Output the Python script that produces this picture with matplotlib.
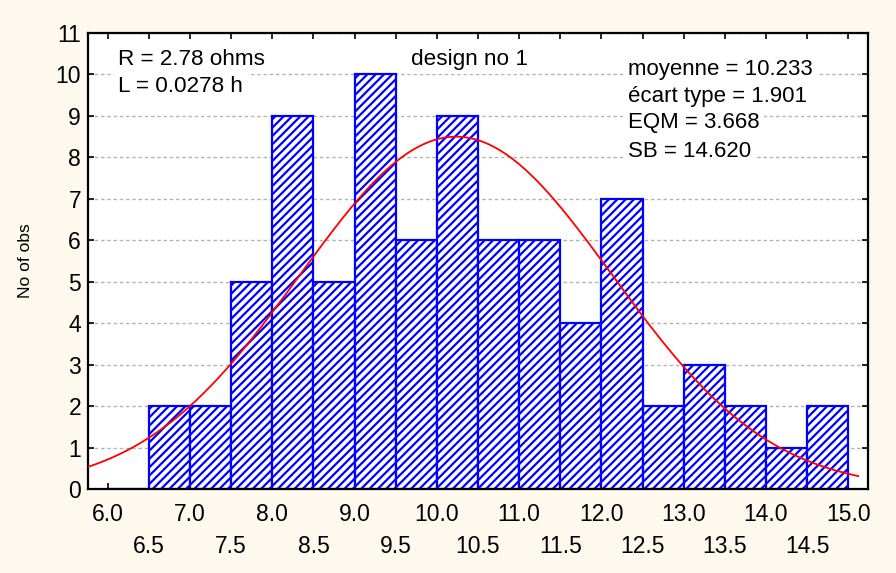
import numpy as np
import matplotlib
matplotlib.use('Agg')
import matplotlib.pyplot as plt
from matplotlib.ticker import FormatStrFormatter

plt.rcParams['font.family'] = ['Liberation Sans', 'DejaVu Sans']
plt.rcParams['hatch.linewidth'] = 1.6
plt.rcParams['hatch.color'] = '#0000ff'

# histogram bins (left edges) and counts
bin_left = [6.0, 6.5, 7.0, 7.5, 8.0, 8.5, 9.0, 9.5, 10.0, 10.5,
            11.0, 11.5, 12.0, 12.5, 13.0, 13.5, 14.0, 14.5]
counts = [0, 2, 2, 5, 9, 5, 10, 6, 9, 6, 6, 4, 7, 2, 3, 2, 1, 2]
bin_width = 0.5

# fitted normal parameters printed on the chart
mean = 10.233
std = 1.901
n_obs = sum(counts)

stats_lines = ["moyenne = 10.233", "écart type = 1.901", "EQM = 3.668", "SB = 14.620"]
design_lines = ["R = 2.78 ohms", "L = 0.0278 h"]

fig = plt.figure(figsize=(8.96, 5.73), dpi=100, facecolor='#fdf9ee')
ax = fig.add_axes([88/896, 1 - 489/573, (868-88)/896, (489-33)/573])
ax.set_facecolor('white')

ax.bar(bin_left, counts, width=bin_width, align='edge', color='white',
       edgecolor='#0000ff', linewidth=1.6, hatch='////', zorder=2)

# normal curve scaled to counts
xs = np.linspace(5.76, 15.12, 300)
ys = n_obs * bin_width / (std * np.sqrt(2 * np.pi)) * np.exp(-0.5 * ((xs - mean) / std) ** 2)
ax.plot(xs, ys, color='#ff0000', lw=1.3, zorder=3)

ax.set_xlim(5.76, 15.24)
ax.set_ylim(0, 11)

# x labels in two staggered rows: whole numbers on top, halves below
ax.set_xticks(np.arange(6.0, 15.01, 1.0))
ax.set_xticks(np.arange(6.5, 15.0, 1.0), minor=True)
ax.xaxis.set_major_formatter(FormatStrFormatter('%.1f'))
ax.xaxis.set_minor_formatter(FormatStrFormatter('%.1f'))
ax.tick_params(axis='x', which='major', labelsize=16.5, pad=10)
ax.tick_params(axis='x', which='minor', labelsize=16.5, pad=33)
ax.set_yticks(range(0, 12))
ax.tick_params(axis='y', labelsize=16.5, pad=5)
ax.tick_params(which='both', direction='in', length=4, width=1.2, top=True, right=True)

ax.yaxis.grid(True, color='#b4b4b4', linestyle=(0, (2.5, 2)), lw=1.0, zorder=0)
ax.set_axisbelow(True)
for s in ax.spines.values():
    s.set_linewidth(1.6)

ax.set_ylabel("No of obs", fontsize=12.5, labelpad=16)

box = dict(facecolor='white', edgecolor='none', pad=3)
ax.text(6.13, 10.37, design_lines[0], fontsize=16.2, va='center', ha='left', bbox=box, zorder=4)
ax.text(6.13, 9.70, design_lines[1], fontsize=16.2, va='center', ha='left', bbox=box, zorder=4)
ax.text(9.69, 10.37, "design no 1", fontsize=16.2, va='center', ha='left', bbox=box, zorder=4)
for line, yy in zip(stats_lines, [10.11, 9.48, 8.83, 8.15]):
    ax.text(12.32, yy, line, fontsize=16, va='center', ha='left', bbox=box, zorder=4)

fig.savefig("out.png", dpi=100, facecolor=fig.get_facecolor())
